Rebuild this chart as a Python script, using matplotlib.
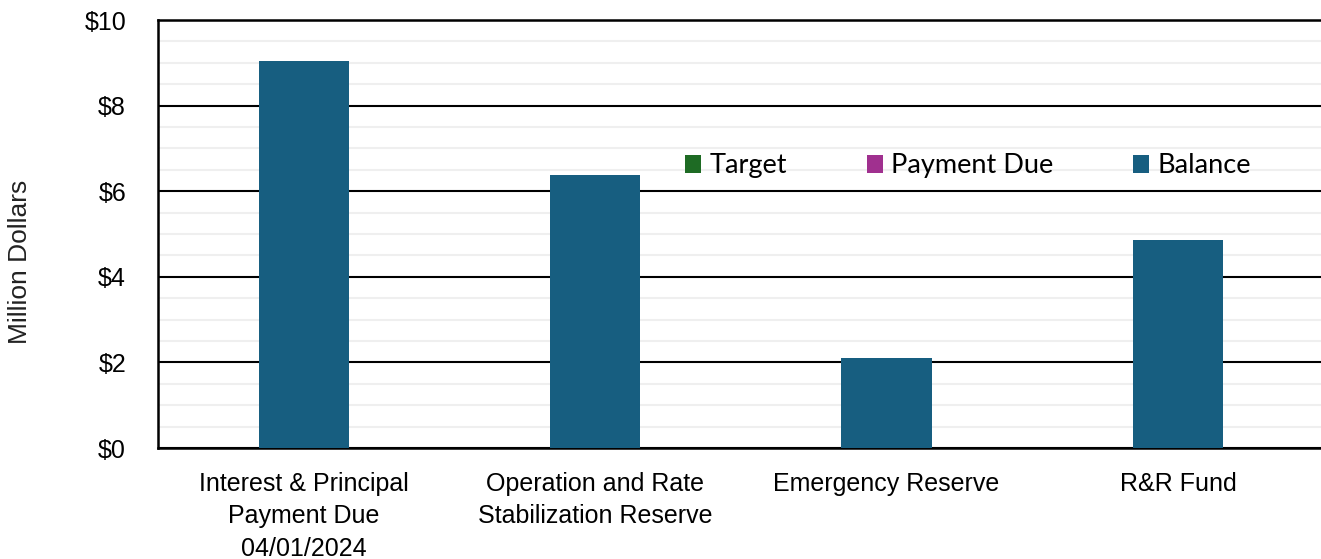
import numpy as np
import matplotlib.pyplot as plt
from matplotlib.ticker import MultipleLocator, FuncFormatter
from matplotlib.patches import Patch

categories = ["Interest & Principal\nPayment Due\n04/01/2024",
              "Operation and Rate\nStabilization Reserve",
              "Emergency Reserve",
              "R&R Fund"]
balance = [9.05, 6.38, 2.10, 4.86]
series_names = ["Target", "Payment Due", "Balance"]
series_colors = ["#1e6b24", "#a0308f", "#175e80"]

plt.rcParams['font.family'] = ['Liberation Sans', 'DejaVu Sans']

fig = plt.figure(figsize=(13.21, 5.59), dpi=100)
ax = fig.add_axes([158/1321, 1 - 448/559, 1 - 158/1321 + 0.002, (448 - 20)/559])

x = np.arange(len(categories))
ax.bar(x, balance, width=0.31, color=series_colors[2], zorder=3)

ax.set_xlim(-0.5, 3.5)
ax.set_ylim(0, 10)
ax.yaxis.set_major_locator(MultipleLocator(2))
ax.yaxis.set_minor_locator(MultipleLocator(0.5))
ax.yaxis.set_major_formatter(FuncFormatter(lambda v, p: f"${v:.0f}"))
ax.grid(axis='y', which='major', color='black', linewidth=1.5, zorder=1)
ax.grid(axis='y', which='minor', color='#efefef', linewidth=1.5, zorder=0)
ax.set_axisbelow(True)

ax.set_xticks(x)
ax.set_xticklabels(categories, fontsize=18, linespacing=1.45)
ax.tick_params(axis='both', which='both', length=0, labelsize=18)
ax.tick_params(axis='x', pad=17)
ax.tick_params(axis='y', pad=23)

for s in ['left', 'top', 'bottom']:
    ax.spines[s].set_linewidth(1.8)
    ax.spines[s].set_color('black')
ax.spines['right'].set_visible(False)

fig.text(20/1321, 1 - 262/559, "Million Dollars", rotation=90, fontsize=19,
         ha='center', va='center', color='#222222')

handles = [Patch(facecolor=c) for c in series_colors]
leg = ax.legend(handles, series_names, loc='center', bbox_to_anchor=(968/1321, 1 - 166/559),
                bbox_transform=fig.transFigure, ncol=3, frameon=False,
                handlelength=0.6, handleheight=0.6, handletextpad=0.3,
                columnspacing=2.95, prop={'family': ['Lato', 'DejaVu Sans'], 'size': 19.5})

fig.savefig("out.png", dpi=100)
